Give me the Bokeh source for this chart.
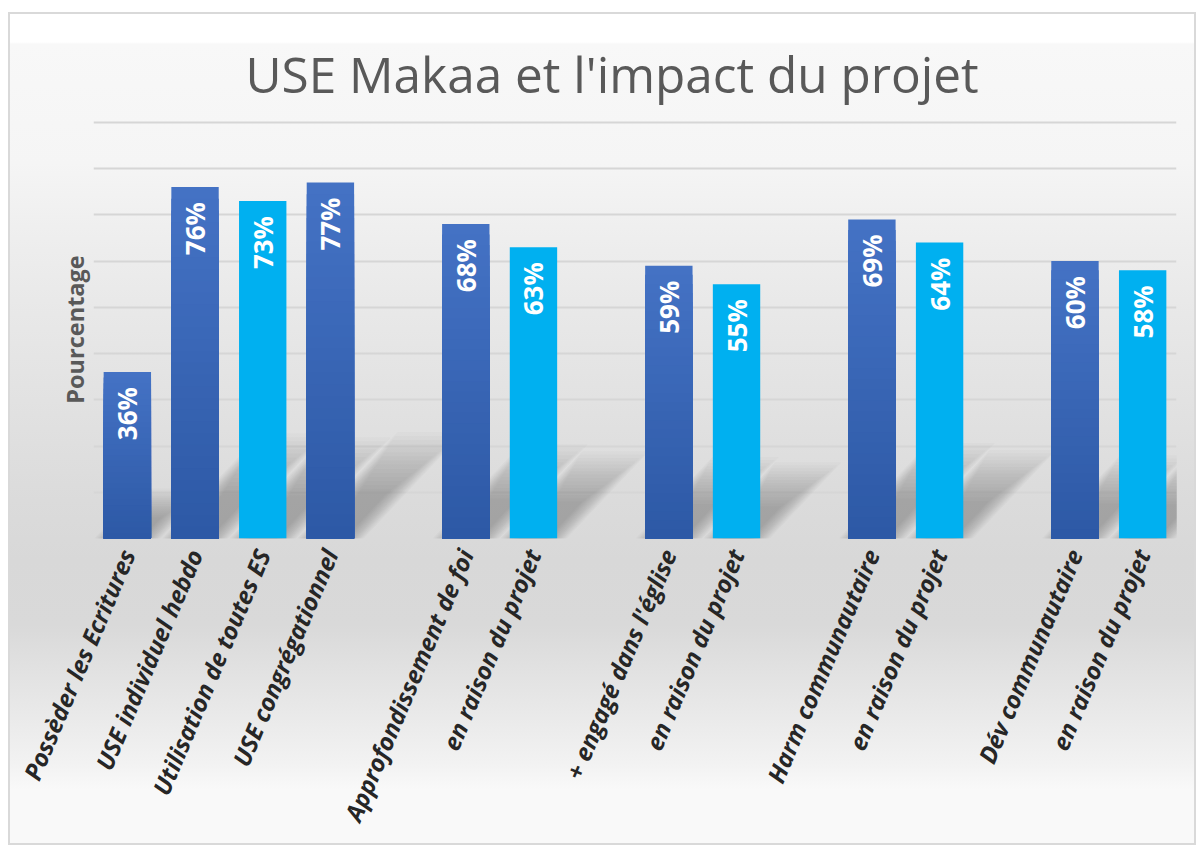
import math
from bokeh.plotting import figure
from bokeh.models import FixedTicker
from bokeh.embed import file_html
from bokeh.resources import INLINE
from bokeh.core.properties import value

# ---------------- data ----------------
chart_title = "USE Makaa et l'impact du projet"
y_title = "Pourcentage"
categories = [
    "Possèder les Ecritures", "USE individuel hebdo", "Utilisation de toutes ES", "USE congrégationnel",
    "Approfondissement de foi", "en raison du projet",
    "+ engagé dans l'église", "en raison du projet",
    "Harm communautaire", "en raison du projet",
    "Dév communautaire", "en raison du projet",
]
values = [36, 76, 73, 77, 68, 63, 59, 55, 69, 64, 60, 58]
series = ["dark", "dark", "light", "dark", "dark", "light", "dark", "light", "dark", "light", "dark", "light"]
group_sizes = [4, 2, 2, 2, 2]
grid_values = [10, 20, 30, 40, 50, 60, 70, 80, 90]
y_max = 90.4

# ---------------- style ----------------
FONT = "Open Sans"
DARK_TOP = (0x44, 0x72, 0xC4)
DARK_BOTTOM = (0x2D, 0x59, 0xA6)
LIGHT = "#00B0F0"
BAR_W = 0.7
N_SLICES = 30

# slot positions: one empty slot between groups
positions = []
slot = 0
for g in group_sizes:
    for _ in range(g):
        positions.append(slot)
        slot += 1
    slot += 1
n_slots = slot - 1

p = figure(
    width=1188, height=833,
    x_range=(-0.5, n_slots - 0.5), y_range=(0, y_max),
    output_backend="svg", toolbar_location=None,
    min_border_left=85, min_border_right=20, min_border_top=108, min_border_bottom=307,
)
p.background_fill_color = None
p.border_fill_color = None
p.outline_line_color = None
p.styles = {
    "margin-left": "8px",
    "margin-top": "12px",
    "background": (
        "linear-gradient(to bottom, #ffffff 0px, #ffffff 30px, #f8f8f8 32px, #f5f5f5 151px, "
        "#efefef 215px, #e9e9e9 288px, #e2e2e2 388px, #dbdbdb 488px, #d8d8d8 548px, "
        "#d9d9d9 613px, #e1e1e1 655px, #e9e9e9 701px, #f2f2f2 751px, #f9f9f9 778px, #f9f9f9 833px)"
    ),
    "box-shadow": "inset 0 0 0 2px #d9d9d9",
}

# title
p.title.text = chart_title
p.title.text_font = FONT
p.title.text_font_size = "49.5px"
p.title.text_font_style = "normal"
p.title.text_color = "#595959"
p.title.align = "left"
p.title.offset = 152
p.title.standoff = 26

# soft perspective shadows behind the bars
sh_xs, sh_ys = [], []
N_SH = 16
for i in range(N_SH):
    t = i / (N_SH - 1)
    wf = 1.4 - 0.8 * t
    lf = 1.3 - 0.75 * t
    for x, v in zip(positions, values):
        hw = BAR_W * wf / 2
        dx = 0.0148 * v * lf
        dy = 0.23 * v * lf
        sh_xs.append([x - hw, x + hw, x + hw + dx, x - hw + dx])
        sh_ys.append([0, 0, dy, dy])
p.patches(sh_xs, sh_ys, fill_color="#5e5e5e", fill_alpha=0.032, line_color=None)

# dark bars with vertical gradient (layered from full height down)
gx, gtop, gcol = [], [], []
for k in range(N_SLICES):
    t = k / (N_SLICES - 1)
    r = round(DARK_TOP[0] + (DARK_BOTTOM[0] - DARK_TOP[0]) * t)
    g = round(DARK_TOP[1] + (DARK_BOTTOM[1] - DARK_TOP[1]) * t)
    b = round(DARK_TOP[2] + (DARK_BOTTOM[2] - DARK_TOP[2]) * t)
    col = "#%02x%02x%02x" % (r, g, b)
    for x, v, s in zip(positions, values, series):
        if s == "dark":
            gx.append(x)
            gtop.append(v * (N_SLICES - k) / N_SLICES)
            gcol.append(col)
p.vbar(x=gx, top=gtop, bottom=0, width=BAR_W, fill_color=gcol, line_color=None)

# light bars
lx = [x for x, s in zip(positions, series) if s == "light"]
lv = [v for v, s in zip(values, series) if s == "light"]
p.vbar(x=lx, top=lv, bottom=0, width=BAR_W, fill_color=LIGHT, line_color=None)

# value labels
p.text(
    x=positions, y=values, text=[f"{v}%" for v in values],
    angle=math.pi / 2, text_align="right", text_baseline="middle",
    y_offset=15, text_color="white", text_font=value(FONT),
    text_font_size="26px", text_font_style="bold",
)

# axes
p.xaxis.ticker = FixedTicker(ticks=positions)
p.xaxis.major_label_overrides = {pos: lab for pos, lab in zip(positions, categories)}
p.xaxis.major_label_orientation = math.radians(67)
p.xaxis.major_label_text_font = FONT
p.xaxis.major_label_text_font_size = "24px"
p.xaxis.major_label_text_color = "#262626"
p.xaxis.major_label_text_font_style = "bold italic"
p.xaxis.major_label_standoff = 6
p.xaxis.major_tick_line_color = None
p.xaxis.minor_tick_line_color = None
p.xaxis.axis_line_color = None

p.yaxis.ticker = FixedTicker(ticks=[])
p.yaxis.major_tick_line_color = None
p.yaxis.minor_tick_line_color = None
p.yaxis.axis_line_color = None
p.yaxis.axis_label = y_title
p.yaxis.axis_label_text_font = FONT
p.yaxis.axis_label_text_font_size = "23.5px"
p.yaxis.axis_label_text_font_style = "bold"
p.yaxis.axis_label_text_color = "#595959"
p.yaxis.axis_label_standoff = 3

p.xgrid.grid_line_color = None
p.ygrid.ticker = FixedTicker(ticks=grid_values)
p.ygrid.grid_line_color = "#d6d6d6"
p.ygrid.grid_line_width = 2

open("out.html", "w").write(file_html(p, INLINE))
